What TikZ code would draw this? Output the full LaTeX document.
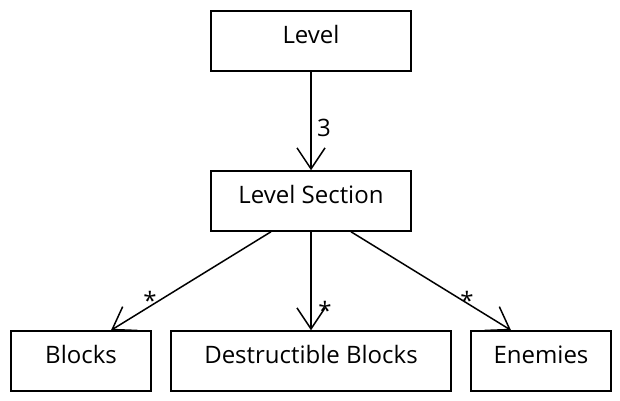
\documentclass[tikz,border=0pt]{standalone}
\usepackage{fontspec}
\setmainfont{Open Sans}
\usetikzlibrary{positioning}
\usetikzlibrary{arrows.meta}

\begin{document}
\begin{tikzpicture}[x=1pt,y=-1pt,
box/.style={draw, line width=1.5pt, minimum height=60pt, text height=17pt, text depth=12.4pt, inner sep=0pt, font=\fontsize{24}{28}\selectfont},
assoc/.style={line width=1.5pt, -{Straight Barb[length=21pt,width=28pt,line width=1.5pt]}},
mult/.style={font=\fontsize{24}{28}\selectfont, inner sep=1pt}]

\useasboundingbox (0,0) rectangle (620,400);

% classes
\node[box, minimum width=200pt] (level) at (311,41) {Level};
\node[box, minimum width=200pt] (section) at (311,201) {Level Section};
\node[box, minimum width=140pt] (blocks) at (81,361) {Blocks};
\node[box, minimum width=280pt] (destr) at (311,361) {Destructible Blocks};
\node[box, minimum width=140pt] (enemies) at (541,361) {Enemies};

% associations
\draw[assoc] (level.south) -- (section.north);
\draw[assoc] ([xshift=-40pt]section.south) -- ([xshift=30pt]blocks.north);
\draw[assoc] (section.south) -- (destr.north);
\draw[assoc] ([xshift=40pt]section.south) -- ([xshift=-30pt]enemies.north);

% multiplicities
\node[mult] (m3) at (324,128) {3};
\node[mult] (mblocks) at (150,300) {*};
\node[mult] (mdestr) at (325,310) {*};
\node[mult] (menemies) at (467,300) {*};

\end{tikzpicture}
\end{document}
